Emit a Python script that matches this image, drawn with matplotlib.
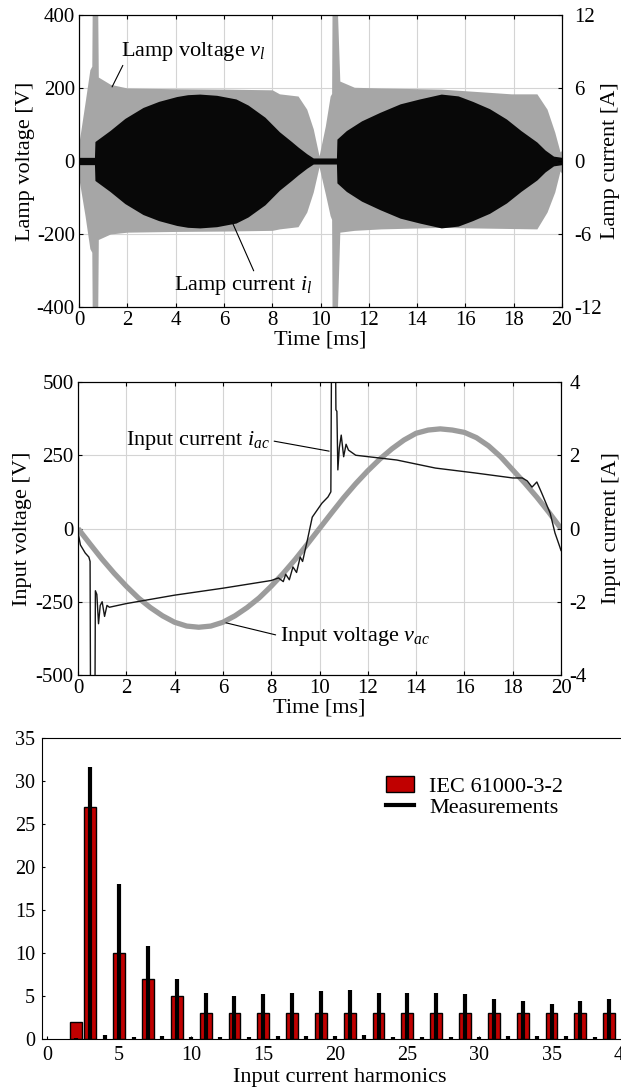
import matplotlib
matplotlib.use('Agg')
import matplotlib.pyplot as plt
from matplotlib.patches import Patch
from matplotlib.lines import Line2D

plt.rcParams['font.family'] = ['Liberation Serif', 'DejaVu Serif']
plt.rcParams['mathtext.fontset'] = 'custom'
plt.rcParams['mathtext.rm'] = 'Liberation Serif'
plt.rcParams['mathtext.it'] = 'Liberation Serif:italic'
plt.rcParams['axes.unicode_minus'] = False
plt.rcParams['xtick.direction'] = 'in'
plt.rcParams['ytick.direction'] = 'in'

# ---- panel 1: lamp voltage / current envelopes
t_lv = [0, 0.25, 0.45, 0.53, 0.55, 0.77, 0.8, 1.3, 2, 4, 6, 8, 8.3, 9.07, 9.43, 9.7, 9.94,
        10.2, 10.4, 10.46, 10.48, 10.68, 10.8, 11.4, 12.5, 15, 17.9, 18.96, 19.38, 19.7, 19.92, 20]
lv_up = [50, 160, 250, 260, 450, 450, 230, 210, 200, 198, 197, 195, 184, 178, 142, 88, 14,
         96, 178, 185, 450, 450, 219, 202, 200, 197, 184, 184, 142, 79, 25, 30]
lv_lo = [-50, -150, -240, -250, -450, -450, -215, -200, -195, -193, -192, -190, -186, -180, -140, -85, -16,
         -90, -150, -160, -450, -450, -195, -190, -186, -182, -185, -186, -140, -85, -27, -35]

t_li = [0, 0.64, 0.66, 1.28, 1.9, 2.65, 3.3, 4.05, 4.5, 5.0, 5.7, 6.5, 7.0, 7.7, 8.3, 8.8, 9.07, 9.43, 9.7,
        10.66, 10.68, 11.07, 11.7, 12.46, 13.3, 14.1, 15.0, 15.7, 16.3, 17.0, 17.7, 18.3, 18.96, 19.3,
        19.65, 20]
li_up = [0.3, 0.3, 1.6, 2.5, 3.5, 4.4, 4.9, 5.3, 5.45, 5.5, 5.4, 5.1, 4.6, 3.6, 2.4, 1.6, 1.15, 0.6, 0.25,
         0.25, 1.8, 2.5, 3.3, 4.0, 4.7, 5.1, 5.5, 5.35, 4.9, 4.3, 3.45, 2.5, 1.56, 0.9,
         0.4, 0.3]
li_lo = [-v for v in li_up]

# ---- panel 2: input voltage / current
t_vac = [0, 0.5, 1, 1.5, 2, 2.5, 3, 3.5, 4, 4.5, 5, 5.5, 6, 6.5, 7, 7.5, 8, 8.5, 9, 9.5, 10,
         10.5, 11, 11.5, 12, 12.5, 13, 13.5, 14, 14.5, 15, 15.5, 16, 16.5, 17, 17.5, 18, 18.5, 19, 19.5, 20]
vac = [0, -53, -105, -153, -197, -237, -270, -298, -320, -333, -337, -333, -320, -298, -270, -237, -197, -153, -105, -53, 0,
       53, 105, 153, 197, 237, 272, 302, 325, 336, 340, 336, 328, 310, 282, 245, 200, 155, 107, 55, 0]

t_iac = [0, 0.1, 0.3, 0.45, 0.5, 0.52, 0.7, 0.72, 0.78, 0.85, 0.92, 1.0, 1.1, 1.2, 1.3, 2, 4, 6, 8,
         8.3, 8.5, 8.6, 8.75, 8.9, 9.05, 9.2, 9.3, 9.5, 9.7, 9.9, 10.1, 10.35, 10.47, 10.5, 10.66,
         10.68, 10.72, 10.76, 10.82, 10.9, 11.0, 11.1, 11.2, 11.5, 13.2, 14.8, 16.4, 18.0, 18.4,
         18.6, 18.8, 19.0, 19.2, 19.55, 19.75, 19.95, 20]
iac = [-0.1, -0.45, -0.67, -0.78, -0.9, -5, -5, -1.7, -1.8, -2.6, -2.1, -2.0, -2.4, -2.1, -2.15, -2.05, -1.82, -1.63, -1.42,
       -1.35, -1.45, -1.25, -1.4, -1.05, -1.2, -0.78, -0.9, -0.31, 0.31, 0.5, 0.69, 0.86, 1.0, 5, 5,
       3.24, 3.2, 1.6, 2.2, 2.55, 1.96, 2.3, 2.14, 2.0, 1.87, 1.65, 1.52, 1.38, 1.38,
       1.3, 1.13, 1.27, 0.97, 0.42, -0.12, -0.5, -0.6]

# ---- panel 3: harmonics
iec_h = [2, 3, 5, 7, 9, 11, 13, 15, 17, 19, 21, 23, 25, 27, 29, 31, 33, 35, 37, 39]
iec_lim = [2, 27, 10, 7, 5, 3, 3, 3, 3, 3, 3, 3, 3, 3, 3, 3, 3, 3, 3, 3]
meas_h = list(range(2, 41))
meas = [0.15, 31.6, 0.5, 18.0, 0.2, 10.8, 0.3, 7.0, 0.2, 5.4, 0.2, 5.0, 0.2, 5.2, 0.3, 5.3, 0.3, 5.6, 0.3,
        5.7, 0.5, 5.3, 0.2, 5.4, 0.2, 5.4, 0.2, 5.2, 0.2, 4.7, 0.3, 4.4, 0.3, 4.1, 0.3, 4.4, 0.2, 4.6, 0.2]

W, H = 621, 1089
fig = plt.figure(figsize=(W / 100, H / 100), dpi=100)


def pos(l, t, r, b):
    return [l / W, 1 - b / H, (r - l) / W, (b - t) / H]


TICK = 15
LAB = 16
GRID = '#d4d4d4'
GREY = '#a6a6a6'

# panel 1
ax1 = fig.add_axes(pos(79, 15, 562, 307))
ax1.set_axisbelow(True)
ax1.grid(True, color=GRID, lw=0.8)
ax1.fill_between(t_lv, lv_lo, lv_up, color=GREY, lw=0)
ax1.set_xlim(0, 20)
ax1.set_ylim(-400, 400)
ax1.set_xticks(range(0, 21, 2))
ax1.set_yticks([-400, -200, 0, 200, 400])
ax1.set_xlabel('Time [ms]', fontsize=LAB, labelpad=0)
ax1.set_ylabel('Lamp voltage [V]', fontsize=LAB, labelpad=1.5)
ax1.tick_params(labelsize=TICK, top=True, length=3, pad=3)
ax1b = ax1.twinx()
ax1b.fill_between(t_li, li_lo, li_up, color='#080808', lw=0)
ax1b.set_ylim(-12, 12)
ax1b.set_yticks([-12, -6, 0, 6, 12])
ax1b.set_ylabel('Lamp current [A]', fontsize=LAB, labelpad=0)
ax1b.tick_params(labelsize=TICK, length=3, pad=8.5)
ax1.annotate('Lamp voltage $v_l$', xy=(1.37, 203), xytext=(1.74, 301), fontsize=LAB,
             va='center', ha='left',
             arrowprops=dict(arrowstyle='-', color='black', lw=0.8, shrinkA=0, shrinkB=0,
                             relpos=(0.03, 0.1)))
ax1.annotate('Lamp current $i_l$', xy=(5.92, -104), xytext=(3.93, -340), fontsize=LAB,
             va='center', ha='left',
             arrowprops=dict(arrowstyle='-', color='black', lw=0.8, shrinkA=0, shrinkB=0,
                             relpos=(0.59, 0.95)))

# panel 2
ax2 = fig.add_axes(pos(78, 382, 561, 675))
ax2.set_axisbelow(True)
ax2.grid(True, color=GRID, lw=0.8)
ax2.plot(t_vac, vac, color='#9c9c9c', lw=3.8, solid_capstyle='butt')
ax2.set_xlim(0, 20)
ax2.set_ylim(-500, 500)
ax2.set_xticks(range(0, 21, 2))
ax2.set_yticks([-500, -250, 0, 250, 500])
ax2.set_xlabel('Time [ms]', fontsize=LAB, labelpad=0)
ax2.set_ylabel('Input voltage [V]', fontsize=LAB, labelpad=3)
ax2.tick_params(labelsize=TICK, top=True, length=3, pad=3)
ax2b = ax2.twinx()
ax2b.plot(t_iac, iac, color='#151515', lw=1.0)
ax2b.set_ylim(-4, 4)
ax2b.set_yticks([-4, -2, 0, 2, 4])
ax2b.set_ylabel('Input current [A]', fontsize=LAB, labelpad=11)
ax2b.tick_params(labelsize=TICK, length=3, pad=6)
ax2.annotate('Input current $i_{ac}$', xy=(10.4, 264), xytext=(1.99, 302), fontsize=LAB,
             va='center', ha='left',
             arrowprops=dict(arrowstyle='-', color='black', lw=0.8, shrinkA=0, shrinkB=0,
                             relpos=(1.03, 0.45)))
ax2.annotate('Input voltage $v_{ac}$', xy=(6.13, -322), xytext=(8.37, -367), fontsize=LAB,
             va='center', ha='left',
             arrowprops=dict(arrowstyle='-', color='black', lw=0.8, shrinkA=0, shrinkB=0,
                             relpos=(-0.03, 0.55)))

# panel 3 (right part and y label run past the figure edge, as in the source)
ax3 = fig.add_axes(pos(42, 738, 638, 1039))
ax3.bar(iec_h, iec_lim, width=0.82, color='#c00000', edgecolor='black', lw=1.0, zorder=2)
ax3.vlines(meas_h, 0, meas, color='black', lw=3, capstyle='butt', zorder=3)
ax3.set_xlim(-0.35, 41)
ax3.set_ylim(0, 35)
ax3.set_xticks(range(0, 41, 5))
ax3.set_yticks(range(0, 36, 5))
ax3.tick_params(labelsize=14.5, length=2, pad=5)
ax3.set_xlabel('Input current harmonics', fontsize=LAB, labelpad=2)
ax3.set_ylabel('Harmonic amplitude [%]', fontsize=LAB, labelpad=12)
handles = [Patch(facecolor='#c00000', edgecolor='black', lw=1.0),
           Line2D([], [], color='black', lw=3)]
ax3.legend(handles, ['IEC 61000-3-2', 'Measurements'], loc='upper left',
           bbox_to_anchor=(386 / W, 1 - 776 / H), bbox_transform=fig.transFigure,
           frameon=False, fontsize=LAB, handlelength=1.25, handletextpad=0.7,
           labelspacing=0.05, borderpad=0, borderaxespad=0)

fig.savefig('out.png', dpi=100)
